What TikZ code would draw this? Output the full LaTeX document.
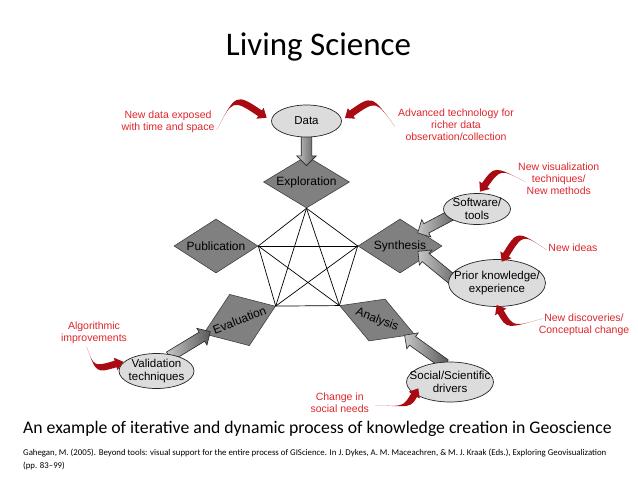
\documentclass[tikz,border=0pt]{standalone}
\usepackage{fontspec}
\setmainfont{Liberation Sans}
\newfontfamily\calfont{Carlito}
\usetikzlibrary{shapes.geometric,shapes.arrows,arrows.meta,calc}
\definecolor{diagray}{RGB}{128,128,128}
\definecolor{ellgray}{RGB}{220,220,220}
\definecolor{redtxt}{RGB}{222,38,44}
\definecolor{swred}{RGB}{168,12,18}
\newcommand\grayarrow[3]{%
  \path let \p1=($(#2)-(#1)$), \n1={veclen(\x1,\y1)}, \n2={atan2(\y1,\x1)} in
    node[blockarr, minimum height=\n1, rotate=\n2] (#3) at ($(#1)!0.5!(#2)$) {};}
% tapered curved arrow: #1 tail, #2 control, #3 tip (coordinate names)
\newcommand\swooshdraw[3]{%
  \coordinate (sB) at ($(#3)!8pt!(#2)$);
  \coordinate (sB1) at ($(sB)!3.4pt!90:(#3)$);
  \coordinate (sB2) at ($(sB)!3.4pt!-90:(#3)$);
  \coordinate (sH1) at ($(sB)!6.5pt!90:(#3)$);
  \coordinate (sH2) at ($(sB)!6.5pt!-90:(#3)$);
  \coordinate (sQ1) at ($(#2)+(sB1)-(sB)$);
  \coordinate (sQ2) at ($(#2)+(sB2)-(sB)$);
  \coordinate (sC1) at (intersection of #1--#2 and sB1--sQ1);
  \coordinate (sC2) at (intersection of #1--#2 and sB2--sQ2);
  \fill[swred] (#1) .. controls (sC1) .. (sB1) -- (sH1) -- (#3) -- (sH2) -- (sB2) .. controls (sC2) .. (#1) -- cycle;}
\begin{document}
\begin{tikzpicture}[x=1pt,y=-1pt,
  dia/.style={diamond, draw=black!75, line width=0.6pt, fill=diagray, inner sep=0pt,
    font=\fontsize{12}{14}\selectfont},
  ell/.style={ellipse, draw=black!85, line width=0.7pt, fill=ellgray, inner sep=0pt},
  elltxt/.style={align=center, inner sep=0pt, font=\fontsize{11.5}{13.2}\selectfont},
  redlbl/.style={align=center, inner sep=0pt, text=redtxt, font=\fontsize{10.5}{11.8}\selectfont},
  pent/.style={draw=black, line width=0.7pt},
  blockarr/.style={single arrow, draw=black!85, line width=0.6pt, inner xsep=0pt, inner ysep=5pt,
    single arrow head extend=4.5pt, left color=gray!45, right color=black!65}
]
\fill[white] (0,0) rectangle (638,479);
\useasboundingbox (0,0) rectangle (638,479);

% title and captions
\node[anchor=base, font=\calfont\fontsize{33}{40}\selectfont] (title) at (318.5,55) {Living Science};
\node[anchor=base west, inner sep=0pt, font=\calfont\fontsize{17.7}{20}\selectfont] (cap) at (23,433)
  {An example of iterative and dynamic process of knowledge creation in Geoscience};
\node[anchor=base west, inner sep=0pt, font=\calfont\fontsize{8.8}{10}\selectfont] (cit1) at (23,455)
  {Gahegan, M. (2005). Beyond tools: visual support for the entire process of GIScience. In J. Dykes, A. M. Maceachren, \& M. J. Kraak (Eds.), Exploring Geovisualization};
\node[anchor=base west, inner sep=0pt, font=\calfont\fontsize{8.8}{10}\selectfont] (cit2) at (23,468) {(pp. 83–99)};

% diamonds
\node[dia, minimum width=86pt, minimum height=52pt, aspect=1.65] (expl) at (306.5,182) {Exploration};
\node[dia, minimum width=84pt, minimum height=54pt, aspect=1.55] (pub) at (216,246) {Publication};
\node[dia, minimum width=84pt, minimum height=54pt, aspect=1.55] (syn) at (400,246) {Synthesis};
\node[dia, minimum width=77pt, minimum height=55pt, aspect=1.4, rotate=21] (eval) at (239.5,320) {Evaluation};
\node[dia, minimum width=80pt, minimum height=45pt, aspect=1.78, rotate=-21] (ana) at (377,320) {Analysis};

% pentagon with all diagonals
\foreach \a/\b in {expl.south/pub.east, expl.south/syn.west, expl.south/eval.east, expl.south/ana.west,
  pub.east/syn.west, pub.east/eval.east, pub.east/ana.west, syn.west/eval.east, syn.west/ana.west,
  eval.east/ana.west}
  \draw[pent] (\a) -- (\b);

% ellipse centres
\path (306.5,121) coordinate (dataC) (477,209) coordinate (softC) (497,283) coordinate (priorC)
  (156.5,371) coordinate (valC) (450,382) coordinate (socC);

% gray block arrows
\grayarrow{[shift={(0,10)}]dataC}{[shift={(0,-19)}]expl.center}{ga1}
\grayarrow{[shift={(-17.2,1.7)}]softC}{[shift={(20,-14.3)}]syn.center}{ga2}
\grayarrow{[shift={(-34.4,4.9)}]priorC}{[shift={(20,7)}]syn.center}{ga3}
\grayarrow{[shift={(10.5,-13.1)}]valC}{[shift={(-31.5,13)}]eval.center}{ga4}
\grayarrow{[shift={(-2.6,-16.2)}]socC}{[shift={(29.7,16.7)}]ana.center}{ga5}

% ellipse nodes
\node[ell, minimum width=70pt, minimum height=32pt, label={[elltxt]center:Data}] (data) at (dataC) {};
\node[ell, minimum width=67pt, minimum height=31pt, label={[elltxt]center:{Software/\\tools}}] (soft) at (softC) {};
\node[ell, minimum width=97pt, minimum height=47pt, label={[elltxt]center:{Prior knowledge/\\experience}}] (prior) at (priorC) {};
\node[ell, minimum width=75pt, minimum height=35pt, label={[elltxt]center:{Validation\\techniques}}] (val) at (valC) {};
\node[ell, minimum width=87pt, minimum height=40pt, label={[elltxt]center:{Social/Scientific\\drivers}}] (soc) at (socC) {};

% red labels
\node[redlbl] (rt1) at (168,121.5) {New data exposed\\with time and space};
\node[redlbl] (rt2) at (456,125) {Advanced technology for\\richer data\\observation/collection};
\node[redlbl] (rt3) at (558.8,179) {New visualization\\techniques/\\New methods};
\node[redlbl] (rt4) at (573,247.7) {New ideas};
\node[redlbl] (rt5) at (584,325) {New discoveries/\\Conceptual change};
\node[redlbl] (rt6) at (94,332.5) {Algorithmic\\improvements};
\node[redlbl] (rt7) at (339.7,402.5) {Change in\\social needs};

% red swooshes: tails, controls, tips
\coordinate (t1) at ([shift={(48.7,8.5)}]rt1.center);   \coordinate (c1) at (234.3,96.2);  \coordinate (h1) at ([shift={(-39.8,-3.3)}]data.center);
\coordinate (t2) at ([shift={(-61,1.7)}]rt2.center);    \coordinate (c2) at (374,97.6);    \coordinate (h2) at ([shift={(38.5,-3)}]data.center);
\coordinate (t3) at ([shift={(-33.8,2.7)}]rt3.center);  \coordinate (c3) at (497.5,167.3); \coordinate (h3) at ([shift={(3,-17.3)}]soft.center);
\coordinate (t4) at ([shift={(-26.3,2.3)}]rt4.center);  \coordinate (c4) at (520,232);     \coordinate (h4) at ([shift={(4.7,-21.3)}]prior.center);
\coordinate (t5) at ([shift={(-40.7,-6.7)}]rt5.center); \coordinate (c5) at (510,328);     \coordinate (h5) at ([shift={(-0.3,22)}]prior.center);
\coordinate (t6) at ([shift={(-7.3,14.2)}]rt6.center);  \coordinate (c6) at (95,370);      \coordinate (h6) at ([shift={(-33.2,-9.3)}]val.center);
\coordinate (t7) at ([shift={(35.3,2.5)}]rt7.center);   \coordinate (c7) at (407,407);     \coordinate (h7) at ([shift={(-31.7,6.3)}]soc.center);
\foreach \i in {1,...,7} {\swooshdraw{t\i}{c\i}{h\i}}
\end{tikzpicture}
\end{document}
